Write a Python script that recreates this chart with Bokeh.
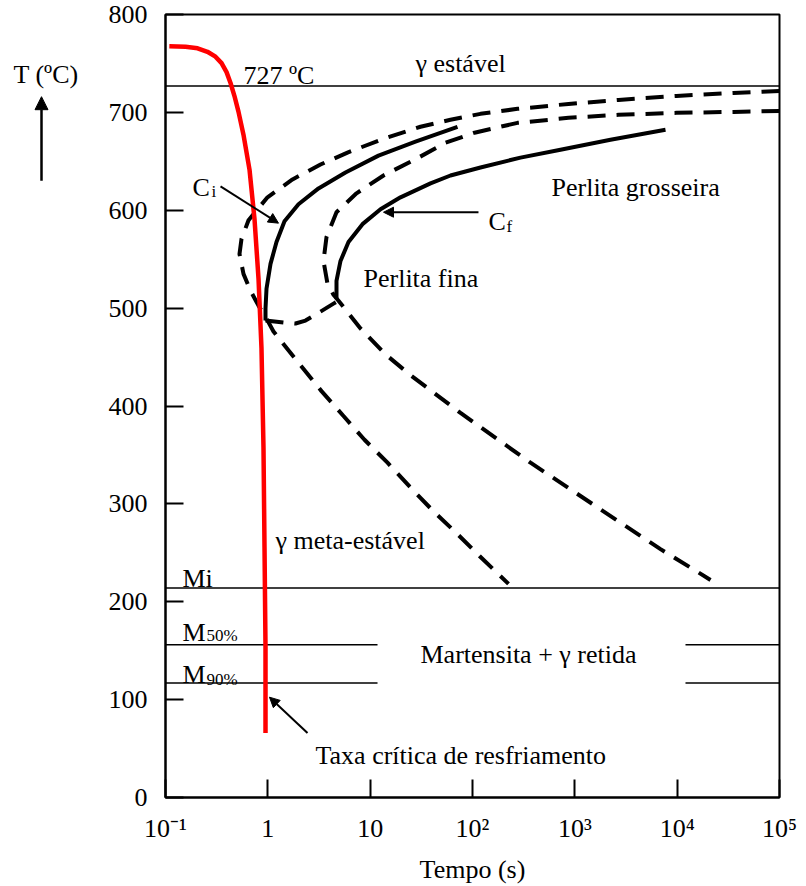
from bokeh.plotting import figure
from bokeh.models import FixedTicker, Label, Arrow, NormalHead
from bokeh.layouts import row
from bokeh.core.properties import value
from bokeh.embed import file_html
from bokeh.resources import INLINE

# ---------------- data (time in s, temperature in degC) ----------------
# critical cooling curve (red)
red_t = [0.109, 0.157, 0.206, 0.257, 0.308, 0.353, 0.395, 0.432, 0.472, 0.517, 0.578, 0.662, 0.741,
         0.811, 0.867, 0.907, 0.928, 0.949, 0.949]
red_T = [767.5, 767.0, 765.5, 761.9, 756.9, 750.3, 741.1, 730.0, 716.7, 700.5, 677.2, 641.6, 590.9,
         529.9, 458.9, 357.4, 255.8, 154.3, 66.0]

# outer dashed curve (with its continuation below the nose)
d1_t = [1e5, 35530, 9851, 2671, 867.1, 275.3, 119.7, 60.95, 31.02, 13.50, 6.004, 3.271, 1.742, 0.9924,
        0.6475, 0.5528, 0.5286, 0.5782, 0.6771, 0.8107, 0.9705, 1.136, 2.085, 3.345, 5.488, 8.803,
        14.77, 24.23, 40.66, 68.22, 117.1, 224.8]
d1_T = [721.8, 719.8, 716.8, 712.7, 708.6, 703.6, 698.5, 692.4, 685.3, 673.1, 658.9, 646.7, 631.5, 613.2,
        589.8, 570.6, 555.3, 535.0, 517.8, 502.5, 489.3, 476.1, 441.6, 415.2, 389.8, 365.5,
        342.1, 317.8, 293.4, 271.1, 246.7, 218.3]

# inner dashed curve (with its continuation below the nose)
d2_t = [1e5, 35530, 9851, 2671, 867.1, 275.3, 104.6, 54.47, 29.67, 13.50, 7.355, 4.688, 3.744, 3.499,
        3.829, 4.382, 4.904, 8.045, 14.12, 24.78, 76.31, 368.8, 1781, 6873, 21180]
d2_T = [701.5, 700.5, 699.5, 697.5, 694.4, 689.3, 679.2, 669.0, 653.8, 635.5, 617.3, 598.0, 572.6, 548.2,
        524.9, 513.7, 507.6, 479.2, 452.8, 431.5, 392.9, 342.1, 294.4, 253.8, 222.3]

# dashed arc joining the two noses
arc_t = [0.9489, 1.423, 1.864, 2.334, 3.271, 4.382, 4.904]
arc_T = [487.3, 485.3, 484.3, 487.3, 496.4, 504.6, 507.6]

# start curve Ci (solid)
ci_t = [71.36, 27.73, 12.06, 5.741, 3.127, 1.993, 1.455, 1.215, 1.062, 0.9705, 0.9489, 0.9489]
ci_T = [685.3, 670.1, 655.8, 638.6, 622.3, 606.1, 588.8, 567.5, 545.2, 519.8, 499.5, 487.3]

# finish curve Cf (solid)
cf_t = [7691, 2231, 724.1, 294.5, 119.7, 60.95, 38.87, 19.79, 12.62, 8.416, 6.141, 5.130, 4.688, 4.688]
cf_T = [682.2, 672.1, 661.9, 653.8, 643.7, 635.5, 627.4, 613.2, 601.0, 585.8, 567.5, 548.2, 527.9, 509.6]

# horizontal levels: A1 (727), Mi, M50%, M90%
lvl_t0 = [0.1, 0.1, 0.1, 12060, 0.1, 12060]
lvl_t1 = [1e5, 1e5, 11.8, 1e5, 11.8, 1e5]
lvl_T = [727, 214, 156, 156, 117, 117]

x_ticks = [0.1, 1, 10, 100, 1000, 10000, 100000]
x_tick_labels = ["10\u207b\u00b9", "1", "10", "10\u00b2", "10\u00b3", "10\u2074", "10\u2075"]
y_ticks = [0, 100, 200, 300, 400, 500, 600, 700, 800]

FONT = "Liberation Serif"

# ---------------- left strip with the temperature axis title ----------------
q = figure(width=100, height=886, x_range=(0, 100), y_range=(886, 0),
           output_backend="svg", toolbar_location=None, min_border=0,
           x_axis_location=None, y_axis_location=None)
q.grid.visible = False
q.outline_line_color = None
q.text(x=[13], y=[68], text=["T (\u00baC)"], text_font=value(FONT), text_font_size="26px",
       text_baseline="alphabetic", text_align="left", text_color="black")
q.add_layout(Arrow(end=NormalHead(size=13, fill_color="black", line_color="black"),
                   x_start=41, y_start=188, x_end=41, y_end=93, line_color="black", line_width=2.5))

# ---------------- main chart ----------------
p = figure(width=706, height=886, x_axis_type="log", x_range=(0.1, 1e5), y_range=(0, 800),
           output_backend="svg", toolbar_location=None,
           min_border_left=65, min_border_right=27, min_border_top=14, min_border_bottom=84)
p.grid.visible = False
p.outline_line_color = "black"
p.outline_line_width = 2
p.background_fill_color = "white"
p.border_fill_color = "white"

for ax in (p.xaxis[0], p.yaxis[0]):
    ax.minor_tick_line_color = None
    ax.major_tick_in = 18
    ax.major_tick_out = 0
    ax.major_tick_line_width = 2
    ax.major_tick_line_color = "black"
    ax.axis_line_width = 2
    ax.axis_line_color = "black"
    ax.major_label_text_font = FONT
    ax.major_label_text_font_size = "26px"
    ax.major_label_text_color = "black"

p.xaxis.ticker = FixedTicker(ticks=x_ticks)
p.xaxis.major_label_overrides = {t: l for t, l in zip(x_ticks, x_tick_labels)}
p.xaxis.major_label_standoff = 16
p.xaxis.axis_label = "Tempo (s)"
p.xaxis.axis_label_text_font = FONT
p.xaxis.axis_label_text_font_size = "26px"
p.xaxis.axis_label_text_font_style = "normal"
p.xaxis.axis_label_text_color = "black"
p.xaxis.axis_label_standoff = 9

p.yaxis.ticker = FixedTicker(ticks=y_ticks)
p.yaxis.major_label_standoff = 18

# levels
p.segment(x0=lvl_t0, y0=lvl_T, x1=lvl_t1, y1=lvl_T, line_color="black", line_width=1.6)

dash = dict(line_color="black", line_width=4, line_dash="18 11", line_cap="butt", line_join="round")
p.line(d1_t, d1_T, **dash)
p.line(d2_t, d2_T, **dash)
p.line(arc_t, arc_T, **dash)

p.line(ci_t, ci_T, line_color="black", line_width=4, line_join="round")
p.line(cf_t, cf_T, line_color="black", line_width=4, line_join="round")

p.line(red_t, red_T, line_color="#ff0000", line_width=4.5, line_join="round")

# annotations: (text, t, T, size)
notes = [
    ("727 \u00baC", 0.5782, 738.1, "26px"),
    ("\u03b3 est\u00e1vel", 27.73, 750.2, "26px"),
    ("C", 0.1836, 623.4, "26px"),
    ("i", 0.2815, 619.3, "17px"),
    ("C", 143.3, 588.8, "26px"),
    ("f", 214.9, 583.8, "17px"),
    ("Perlita grosseira", 591.6, 623.4, "26px"),
    ("Perlita fina", 8.608, 529.9, "26px"),
    ("\u03b3 meta-est\u00e1vel", 1.188, 262.9, "26px"),
    ("Mi", 0.1466, 223.4, "26px"),
    ("M", 0.1466, 168.5, "26px"),
    ("50%", 0.2517, 165.5, "17px"),
    ("M", 0.1466, 125.9, "26px"),
    ("90%", 0.2517, 120.8, "17px"),
    ("Martensita + \u03b3 retida", 31.02, 146.2, "26px"),
    ("Taxa cr\u00edtica de resfriamento", 2.923, 42.6, "26px"),
]
for txt, tx, ty, sz in notes:
    p.add_layout(Label(x=tx, y=ty, text=txt, text_font=FONT, text_font_size=sz,
                       text_align="left", text_baseline="alphabetic", text_color="black"))

# arrows: (t_start, T_start, t_end, T_end)
arrows = [
    (0.3448, 624.4, 1.271, 586.8),
    (114.4, 598.0, 13.50, 598.0),
    (2.441, 66.0, 1.038, 102.5),
]
for xs, ys, xe, ye in arrows:
    p.add_layout(Arrow(end=NormalHead(size=10, fill_color="black", line_color="black"),
                       x_start=xs, y_start=ys, x_end=xe, y_end=ye,
                       line_color="black", line_width=2))

layout = row(q, p, spacing=0)
open("out.html", "w").write(file_html(layout, INLINE))
